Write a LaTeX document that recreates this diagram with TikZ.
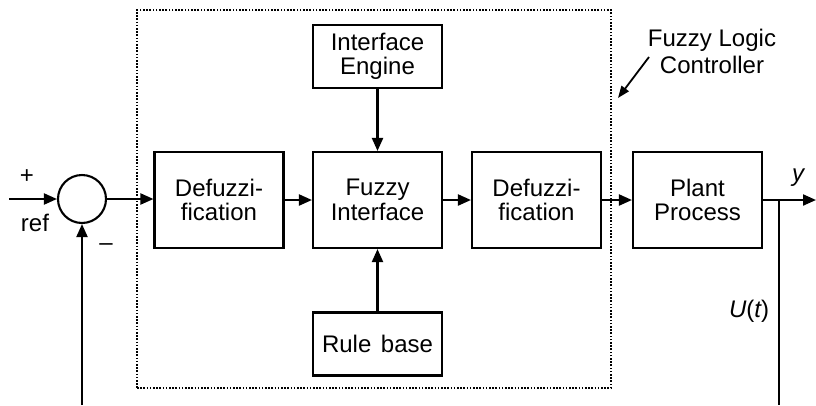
\documentclass[tikz,border=0pt]{standalone}
\usepackage{fontspec}
\setmainfont{Liberation Sans}
\usetikzlibrary{arrows.meta}
\begin{document}
\begin{tikzpicture}[x=1pt,y=-1pt,
  blk/.style={draw, line width=2.1pt, minimum width=129pt, minimum height=96pt,
    align=center, inner sep=0pt, font=\fontsize{24}{24.5}\selectfont},
  smallblk/.style={blk, minimum height=63pt},
  lbl/.style={font=\fontsize{24}{27}\selectfont, inner sep=0pt, align=center},
  sig/.style={line width=2.1pt, -{Triangle[length=13pt,width=11pt]}},
  wire/.style={line width=2.1pt},
  flc/.style={draw, line width=1.8pt, dash pattern=on 1.6pt off 1.6pt}]
\useasboundingbox (0,0) rectangle (816,405);

% controller enclosure
\node[flc, minimum width=474pt, minimum height=378pt, inner sep=0pt] (ctrl) at (374,199) {};

% summing junction
\node[draw, circle, line width=2.1pt, minimum size=48pt, inner sep=0pt] (sum) at (82,199) {};

% blocks
\node[blk] (fuz) at (219,200) {Defuzzi-\\fication};
\node[blk] (inf) at (377.5,200) {Fuzzy\\Interface};
\node[blk] (dfz) at (536.5,200) {Defuzzi-\\fication};
\node[blk] (plant) at (697.5,200) {Plant\\Process};
\node[smallblk] (eng) at (377.5,56.5) {Interface\\Engine};
\node[smallblk] (rule) at (377.5,344) {Rule\hspace{0.4em}base};

% signal coordinates
\coordinate (in) at (9,199);
\coordinate (fb) at (82,405);
\coordinate (tap) at (779,200);
\coordinate (tapb) at (779,405);
\coordinate (out) at (816,200);

% forward path
\draw[sig] (in) -- (sum.west);
\draw[sig] (sum.east) -- (fuz.west |- sum.east);
\draw[sig] (fuz) -- (inf);
\draw[sig] (inf) -- (dfz);
\draw[sig] (dfz) -- (plant);
\draw[wire] (plant.east) -- (tap);
\draw[sig] (tap) -- (out);
\draw[wire] (tap) -- (tapb);
\draw[sig] (fb) -- (sum.south);

% knowledge inputs
\draw[sig] (eng) -- (inf);
\draw[sig] (rule) -- (inf);

% labels
\node[lbl] (plus) at (27,177) {+};
\node[lbl] (ref) at (35,223) {ref};
\node[lbl] (minus) at (106,247) {\textendash};
\node[lbl] (yl) at (798,178) {\itshape y};
\node[lbl] (ut) at (749,311) {\itshape U\upshape(\itshape t\upshape)};
\node[lbl] (title) at (712,51) {Fuzzy Logic\\Controller};
\coordinate (tA) at (649,57);
\coordinate (tB) at (618,98);
\draw[line width=1.8pt, -{Triangle[length=12pt,width=9pt]}] (tA) -- (tB);
\end{tikzpicture}
\end{document}
